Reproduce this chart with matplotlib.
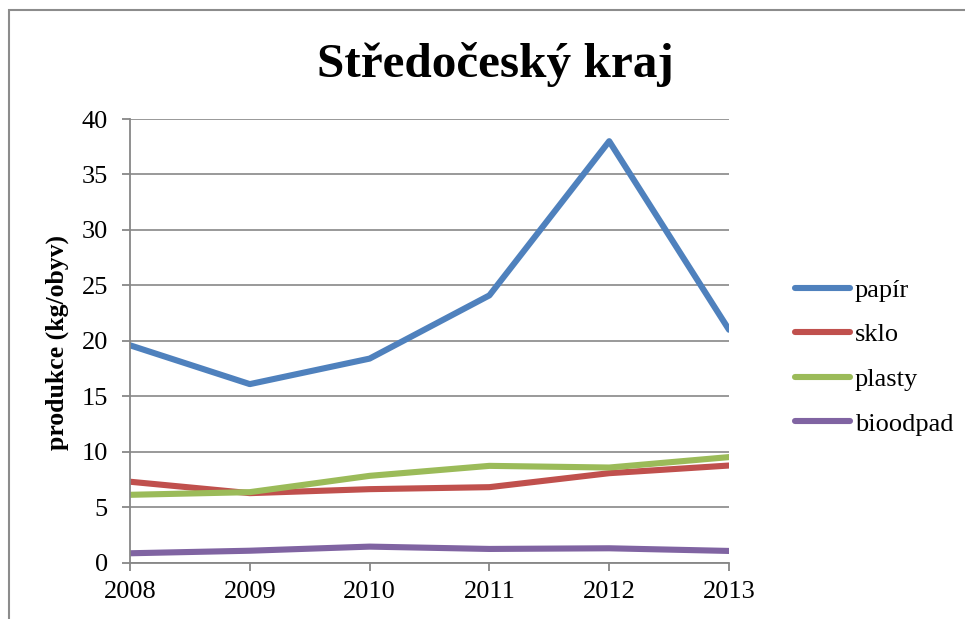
import matplotlib
matplotlib.use("Agg")
import matplotlib.pyplot as plt
from matplotlib.patches import Rectangle

years = [2008, 2009, 2010, 2011, 2012, 2013]
papir = [19.6, 16.1, 18.4, 24.1, 38.0, 21.0]
sklo = [7.3, 6.27, 6.63, 6.81, 8.07, 8.76]
plasty = [6.12, 6.36, 7.83, 8.73, 8.58, 9.52]
bioodpad = [0.85, 1.08, 1.45, 1.24, 1.3, 1.06]
names = ["papír", "sklo", "plasty", "bioodpad"]
colors = ["#4F81BD", "#C0504D", "#9BBB59", "#8064A2"]

plt.rcParams["font.family"] = ["Liberation Serif", "DejaVu Serif"]

fig = plt.figure(figsize=(9.65, 6.19), dpi=100)
ax = fig.add_axes([130/965, 1 - 562.7/619, 599/965, 443.7/619])

# chart border like the excel chart area
fig.patches.append(Rectangle((9/965, -0.1), 1.2, 1 - 10/619 + 0.1, transform=fig.transFigure,
                             fill=False, edgecolor="#8c8c8c", linewidth=1.5))

for vals, name, c in zip([papir, sklo, plasty, bioodpad], names, colors):
    ax.plot(years, vals, color=c, linewidth=4.4, label=name, solid_capstyle="round")

ax.set_xlim(2008, 2013)
ax.set_ylim(0, 40)
ax.set_yticks(range(0, 41, 5))
ax.set_xticks(years)
ax.grid(axis="y", color="#878787", linewidth=1.2)
ax.set_axisbelow(True)
for s in ["top", "right"]:
    ax.spines[s].set_visible(False)
for s in ["left", "bottom"]:
    ax.spines[s].set_color("#878787")
    ax.spines[s].set_linewidth(1.3)
ax.tick_params(axis="both", colors="#878787", labelcolor="black", labelsize=19, length=6, width=1.3)
ax.tick_params(axis="y", pad=10)
ax.tick_params(axis="x", pad=7)

fig.text(57/965, 1 - 342/619, "produkce (kg/obyv)", rotation=90, ha="center", va="center",
         fontsize=18.5, fontweight="bold")

fig.text(0.513, 0.895, "Středočeský kraj", ha="center", va="center", fontsize=35.5, fontweight="bold")

ax.legend(loc="center left", bbox_to_anchor=(795/965, 1 - 357/619), bbox_transform=fig.transFigure,
          frameon=False, fontsize=19, handlelength=2.08, handletextpad=0.19, labelspacing=0.8,
          borderaxespad=0, borderpad=0)

fig.savefig("out.png", dpi=100)
